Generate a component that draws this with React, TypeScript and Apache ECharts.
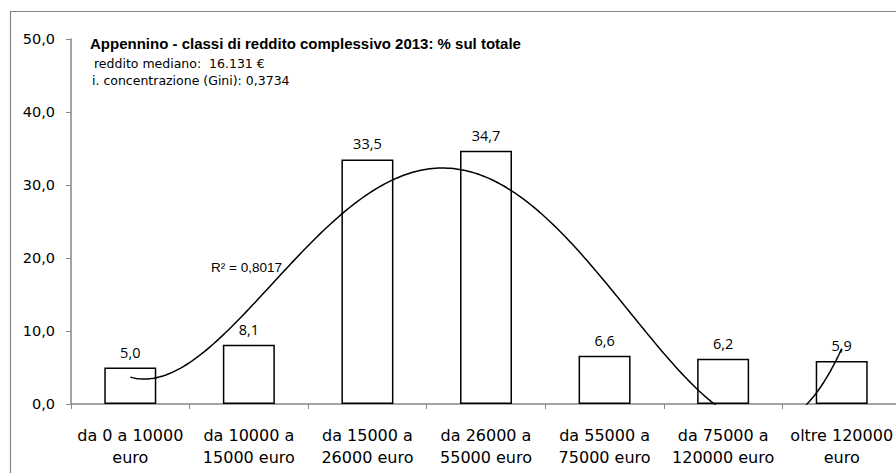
import React, { useEffect, useRef } from "react";
import * as echarts from "echarts";

const categories = [
  "da 0 a 10000\neuro",
  "da 10000 a\n15000 euro",
  "da 15000 a\n26000 euro",
  "da 26000 a\n55000 euro",
  "da 55000 a\n75000 euro",
  "da 75000 a\n120000 euro",
  "oltre 120000\neuro",
];
const shares = [5.0, 8.1, 33.5, 34.7, 6.6, 6.2, 5.9];
const yMin = 0;
const yMax = 50;
const yStep = 10;
const titleText = "Appennino - classi di reddito complessivo 2013: % sul totale";
const medianText = "reddito mediano:  16.131 €";
const giniText = "i. concentrazione (Gini): 0,3734";
const r2Text = "R² = 0,8017";
const trendOrder = 4;

const fmt = (v: number, d = 1) => v.toFixed(d).replace(".", ",");

// Least-squares polynomial trendline (as in the spreadsheet's trendline)
function polyFit(xs: number[], ys: number[], order: number): number[] {
  const n = order + 1;
  const A: number[][] = [];
  for (let i = 0; i < n; i++) {
    const row: number[] = [];
    for (let j = 0; j < n; j++) {
      row.push(xs.reduce((s, x) => s + Math.pow(x, i + j), 0));
    }
    row.push(xs.reduce((s, x, k) => s + ys[k] * Math.pow(x, i), 0));
    A.push(row);
  }
  for (let c = 0; c < n; c++) {
    let p = c;
    for (let r = c + 1; r < n; r++) if (Math.abs(A[r][c]) > Math.abs(A[p][c])) p = r;
    [A[c], A[p]] = [A[p], A[c]];
    for (let r = 0; r < n; r++) {
      if (r === c) continue;
      const f = A[r][c] / A[c][c];
      for (let k = c; k <= n; k++) A[r][k] -= f * A[c][k];
    }
  }
  return A.map((row, i) => row[n] / row[i]);
}
const evalPoly = (co: number[], x: number) => co.reduce((s, c, i) => s + c * Math.pow(x, i), 0);

export default function App() {
  const ref = useRef<HTMLDivElement>(null);
  useEffect(() => {
    if (!ref.current) return;
    const chart = echarts.init(ref.current, undefined, { renderer: "svg" });
    const xs = shares.map((_, i) => i + 1);
    const co = polyFit(xs, shares, trendOrder);
    const trend: number[][] = [];
    for (let k = 0; k <= 240; k++) {
      const x = 1 + (k * (xs.length - 1)) / 240;
      trend.push([x, evalPoly(co, x)]);
    }
    const grey = "#868686";
    chart.setOption({
      animation: false,
      backgroundColor: "#fff",
      grid: { left: 71, top: 39, width: 830, height: 365, outerBoundsMode: "none", containLabel: false },
      graphic: [
        {
          type: "rect",
          z: -10,
          shape: { x: 10.5, y: 11.5, width: 1000, height: 1000 },
          style: { fill: "none", stroke: grey, lineWidth: 1.2 },
        },
        {
          type: "text",
          x: 90,
          y: 43,
          style: {
            text: titleText,
            font: "bold 15px 'Liberation Sans', Arial, sans-serif",
            fill: "#000",
            verticalAlign: "middle",
          },
        },
        {
          type: "text",
          x: 94,
          y: 63,
          style: { text: medianText, font: "12.5px 'DejaVu Sans', sans-serif", fill: "#000", verticalAlign: "middle" },
        },
        {
          type: "text",
          x: 92,
          y: 80,
          style: { text: giniText, font: "12.5px 'DejaVu Sans', sans-serif", fill: "#000", verticalAlign: "middle" },
        },
        {
          type: "text",
          x: 211,
          y: 267,
          style: {
            text: r2Text,
            font: "13.5px 'Liberation Sans', Arial, sans-serif",
            fill: "#000",
            verticalAlign: "middle",
          },
        },
      ],
      xAxis: [
        {
          type: "category",
          data: categories,
          axisLine: { show: true, lineStyle: { color: grey, width: 1.5 } },
          axisTick: { show: true, length: 5, lineStyle: { color: grey, width: 1 } },
          axisLabel: {
            interval: 0,
            color: "#000",
            fontFamily: "DejaVu Sans",
            fontSize: 16,
            lineHeight: 22,
            margin: 20,
          },
          splitLine: { show: false },
        },
        { type: "value", min: 0.5, max: xs.length + 0.5, show: false },
      ],
      yAxis: {
        type: "value",
        min: yMin,
        max: yMax,
        interval: yStep,
        splitLine: { show: false },
        axisLine: { show: true, lineStyle: { color: grey, width: 1.5 } },
        axisTick: { show: true, length: 5, lineStyle: { color: grey, width: 1 } },
        axisLabel: {
          color: "#000",
          fontFamily: "DejaVu Sans",
          fontSize: 14.5,
          margin: 16,
          formatter: (v: number) => fmt(v),
        },
      },
      series: [
        {
          type: "bar",
          data: shares,
          barWidth: 52,
          itemStyle: { color: "#fff", borderColor: "#000", borderWidth: 1.5 },
          label: {
            show: true,
            position: "top",
            distance: 8,
            color: "#000",
            fontFamily: "Open Sans",
            fontSize: 14.5,
            formatter: (p: any) => fmt(p.value),
          },
          silent: true,
        },
        {
          type: "line",
          xAxisIndex: 1,
          data: trend,
          showSymbol: false,
          symbol: "none",
          clip: true,
          z: 5,
          lineStyle: { color: "#000", width: 1.5 },
          silent: true,
        },
      ],
    });
    return () => chart.dispose();
  }, []);
  return (
    <div style={{ position: "fixed", left: 0, top: 0, width: 896, height: 473, overflow: "hidden", background: "#fff" }}>
      <div ref={ref} style={{ width: 930, height: 490 }} />
    </div>
  );
}
